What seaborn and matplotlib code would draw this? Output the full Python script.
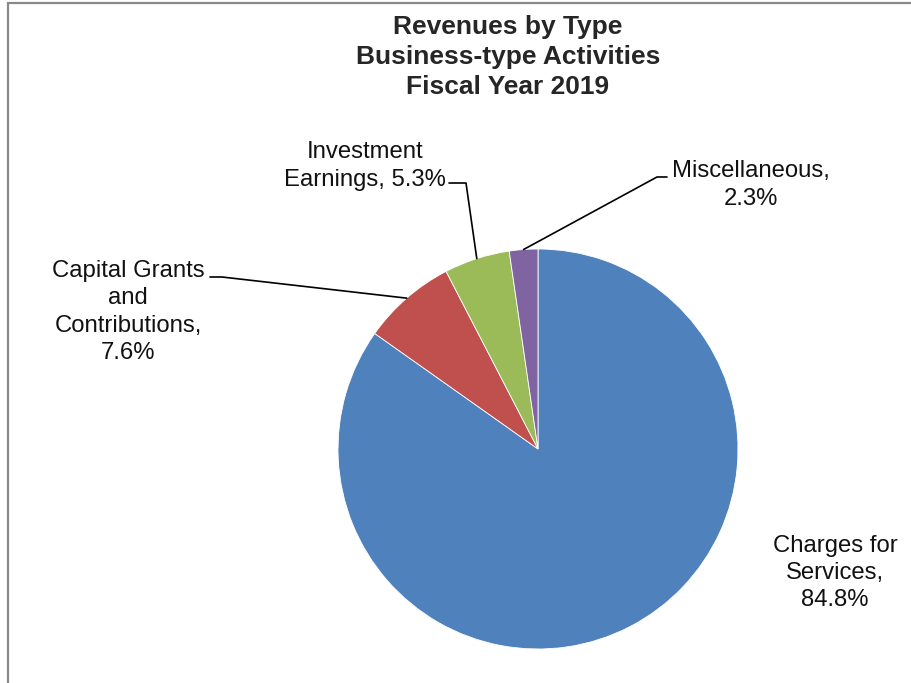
import numpy as np
import matplotlib
matplotlib.use("Agg")
import matplotlib.pyplot as plt
import seaborn as sns

# Revenue shares by type (percent)
categories = ["Charges for\nServices", "Capital Grants\nand\nContributions", "Investment\nEarnings", "Miscellaneous"]
shares = [84.8, 7.6, 5.3, 2.3]
label_texts = ["Charges for\nServices,\n84.8%",
               "Capital Grants\nand\nContributions,\n7.6%",
               "Investment\nEarnings, 5.3%",
               "Miscellaneous,\n2.3%"]
colors = ["#4F81BD", "#C0504D", "#9BBB59", "#8064A2"]

sns.set_style("white")
plt.rcParams["font.family"] = ["Liberation Sans", "DejaVu Sans"]

W, H = 912, 683
fig = plt.figure(figsize=(W / 100, H / 100), dpi=100)
ax = fig.add_axes([0, 0, 1, 1])


def py(y):
    """Convert a top-down pixel row into the axes' upward y coordinate."""
    return H - y


cx, cy, r = 538, py(449), 200
wedges, _ = ax.pie(shares, colors=sns.color_palette(colors), startangle=90, counterclock=False,
                   center=(cx, cy), radius=r, frame=True,
                   wedgeprops=dict(linewidth=0.6, edgecolor="white"))
ax.set_xlim(0, W)
ax.set_ylim(0, H)
ax.set_aspect("equal")
ax.axis("off")

# chart-area border
ax.plot([8.5, 8.5, W + 5], [py(H + 5), py(2.5), py(2.5)], color="#898989", lw=1.6,
        solid_joinstyle="miter")

fs = 17.2
# label blocks: (x, y) of centre in pixels
label_pos = [(835, 573), (128, 312), (365, 166), (751, 185)]
for txt, (lx, ly) in zip(label_texts, label_pos):
    ax.text(lx, py(ly), txt, ha="center", va="center", fontsize=fs, linespacing=1.32,
            color="#111111")

# leader lines from wedge mid-angles to the label elbows
elbows = {1: [(222, 277), (210, 277)], 2: [(466, 183), (449, 183)], 3: [(657, 177), (667, 177)]}
for i, pts in elbows.items():
    w = wedges[i]
    mid = np.deg2rad((w.theta1 + w.theta2) / 2)
    sx, sy = cx + r * np.cos(mid), cy + r * np.sin(mid)
    xs = [sx] + [p[0] for p in pts]
    ys = [sy] + [py(p[1]) for p in pts]
    ax.plot(xs, ys, color="black", lw=1.2)

ax.text(508, py(57), "Revenues by Type\nBusiness-type Activities\nFiscal Year 2019",
        ha="center", va="center", fontsize=19, fontweight="bold", linespacing=1.3)

fig.savefig("out.png", dpi=100)
